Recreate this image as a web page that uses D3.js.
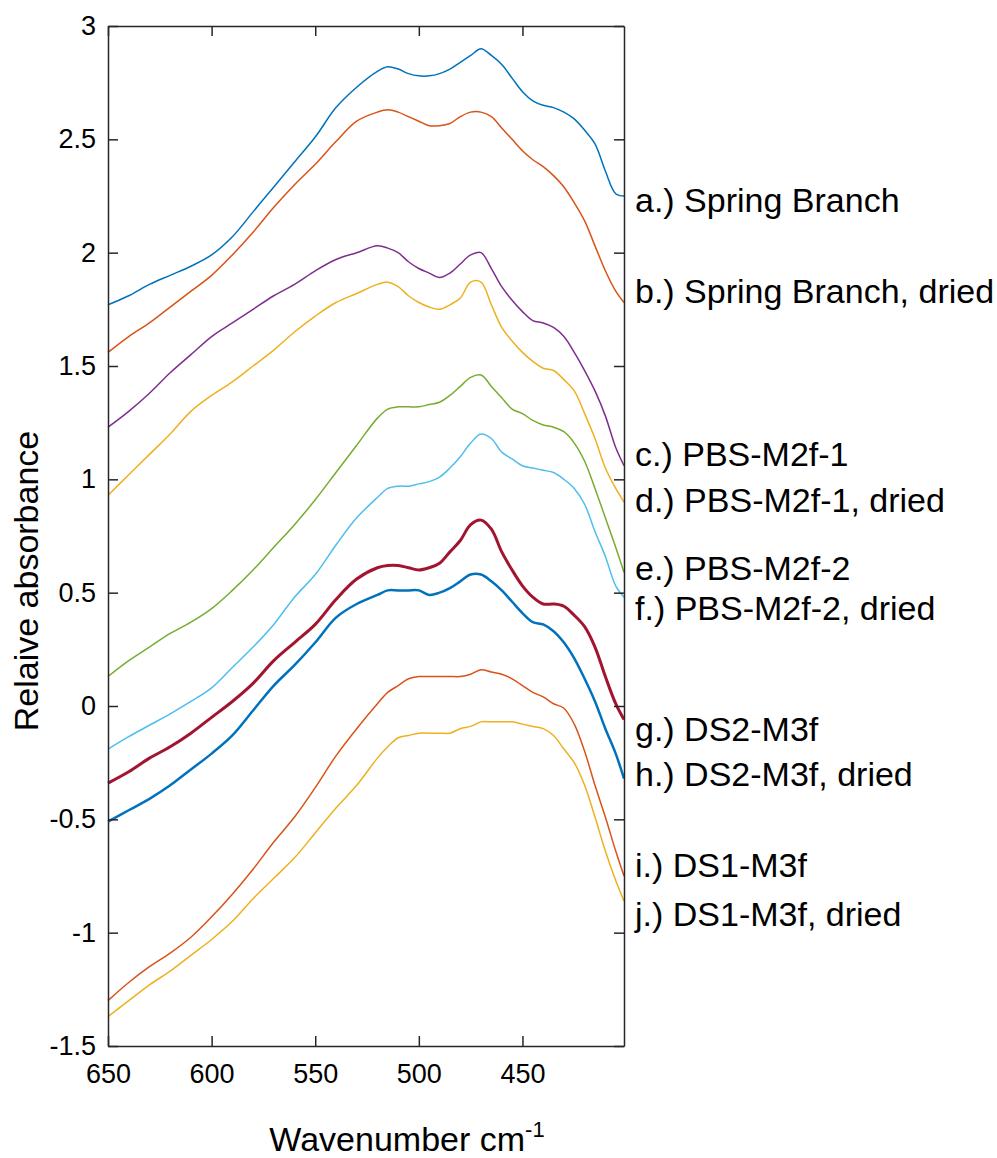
<!DOCTYPE html>
<html>
<head>
<meta charset="utf-8">
<script src="https://cdn.jsdelivr.net/npm/d3@7"></script>
<style>
  body { margin: 0; background: #fff; }
  text { font-family: "Liberation Sans", Arial, sans-serif; fill: #000; }
</style>
</head>
<body>
<div id="chart"></div>
<script>
const margin = { top: 26, right: 373, bottom: 112, left: 108 },
      width = 997 - margin.left - margin.right,
      height = 1158 - margin.top - margin.bottom;

// wavenumbers (cm-1), shared by every spectrum
const wavenumbers = [650, 640, 630, 620, 610, 600, 590, 580, 570, 560, 550, 540, 530, 520, 515, 510,
  505, 500, 495, 490, 485, 480, 475, 470, 465, 460, 455, 450, 445, 440, 435, 430, 425, 420, 415, 410, 405, 401];

const springBranch      = [1.77,1.81,1.86,1.90,1.94,1.99,2.07,2.18,2.29,2.40,2.51,2.64,2.73,2.80,2.82,2.81,2.79,2.78,2.78,2.79,2.81,2.84,2.87,2.90,2.87,2.83,2.77,2.71,2.67,2.65,2.64,2.62,2.59,2.54,2.48,2.36,2.26,2.25];
const springBranchDried = [1.56,1.63,1.69,1.76,1.83,1.90,1.99,2.09,2.20,2.30,2.39,2.49,2.58,2.62,2.63,2.62,2.60,2.58,2.56,2.56,2.57,2.60,2.62,2.62,2.60,2.55,2.50,2.45,2.41,2.38,2.34,2.29,2.22,2.14,2.03,1.92,1.83,1.78];
const pbs1      = [1.23,1.30,1.38,1.47,1.55,1.63,1.69,1.75,1.81,1.86,1.92,1.97,2.00,2.03,2.02,2.00,1.96,1.93,1.91,1.89,1.91,1.95,1.99,2.00,1.93,1.85,1.79,1.74,1.70,1.69,1.67,1.63,1.56,1.48,1.39,1.28,1.14,1.06];
const pbs1Dried = [0.93,1.02,1.11,1.20,1.30,1.37,1.43,1.50,1.57,1.65,1.72,1.78,1.82,1.86,1.87,1.85,1.81,1.78,1.76,1.75,1.77,1.80,1.87,1.87,1.77,1.67,1.61,1.56,1.52,1.49,1.48,1.44,1.39,1.29,1.18,1.05,0.96,0.90];
const pbs2      = [0.13,0.20,0.26,0.32,0.37,0.43,0.51,0.60,0.70,0.80,0.91,1.03,1.15,1.27,1.31,1.32,1.32,1.32,1.33,1.34,1.37,1.41,1.45,1.46,1.41,1.36,1.31,1.29,1.26,1.24,1.23,1.21,1.16,1.08,0.96,0.83,0.70,0.59];
const pbs2Dried = [-0.19,-0.135,-0.085,-0.035,0.02,0.08,0.17,0.26,0.36,0.48,0.58,0.71,0.83,0.92,0.96,0.97,0.97,0.98,0.99,1.01,1.05,1.10,1.16,1.20,1.18,1.12,1.09,1.06,1.05,1.04,1.03,1.00,0.96,0.89,0.77,0.66,0.53,0.48];
const ds2      = [-0.34,-0.29,-0.23,-0.18,-0.12,-0.05,0.02,0.10,0.20,0.28,0.36,0.47,0.56,0.61,0.62,0.62,0.61,0.60,0.61,0.63,0.68,0.73,0.80,0.82,0.78,0.68,0.60,0.53,0.48,0.45,0.45,0.44,0.40,0.35,0.26,0.13,0.01,-0.06];
const ds2Dried = [-0.51,-0.46,-0.41,-0.35,-0.28,-0.21,-0.13,-0.02,0.09,0.18,0.28,0.39,0.45,0.49,0.51,0.51,0.51,0.51,0.49,0.50,0.52,0.55,0.58,0.58,0.55,0.51,0.46,0.41,0.37,0.36,0.33,0.28,0.21,0.12,0.02,-0.10,-0.21,-0.32];
const ds1      = [-1.30,-1.22,-1.15,-1.09,-1.02,-0.93,-0.83,-0.72,-0.60,-0.49,-0.36,-0.22,-0.10,0.01,0.06,0.09,0.12,0.13,0.13,0.13,0.13,0.13,0.14,0.16,0.15,0.14,0.12,0.09,0.06,0.04,0.01,-0.01,-0.08,-0.20,-0.35,-0.49,-0.64,-0.75];
const ds1Dried = [-1.37,-1.30,-1.23,-1.17,-1.10,-1.03,-0.95,-0.85,-0.76,-0.67,-0.56,-0.45,-0.35,-0.23,-0.18,-0.14,-0.13,-0.12,-0.12,-0.12,-0.12,-0.10,-0.09,-0.07,-0.07,-0.07,-0.07,-0.08,-0.09,-0.10,-0.13,-0.19,-0.25,-0.35,-0.49,-0.64,-0.77,-0.86];

const labels = [
  "a.) Spring Branch", "b.) Spring Branch, dried",
  "c.) PBS-M2f-1", "d.) PBS-M2f-1, dried",
  "e.) PBS-M2f-2", "f.) PBS-M2f-2, dried",
  "g.) DS2-M3f", "h.) DS2-M3f, dried",
  "i.) DS1-M3f", "j.) DS1-M3f, dried"
];
// vertical position of each label, in absorbance units
const labelValues = [2.23, 1.83, 1.11, 0.91, 0.61, 0.43, -0.10, -0.30, -0.70, -0.92];
const colors = ["#0072BD", "#D95319", "#7E2F8E", "#EDB120", "#77AC30",
                "#4DBEEE", "#A2142F", "#0072BD", "#D95319", "#EDB120"];
const lineWidths = [1.5, 1.5, 1.5, 1.5, 1.5, 1.5, 3, 2.5, 1.5, 1.5];

const xTicks = [650, 600, 550, 500, 450];
const yTicks = [-1.5, -1, -0.5, 0, 0.5, 1, 1.5, 2, 2.5, 3];

const series = [springBranch, springBranchDried, pbs1, pbs1Dried, pbs2,
                pbs2Dried, ds2, ds2Dried, ds1, ds1Dried];

const svg = d3.select("#chart")
  .append("svg")
  .attr("width", width + margin.left + margin.right)
  .attr("height", height + margin.top + margin.bottom)
  .append("g")
  .attr("transform", `translate(${margin.left},${margin.top})`);

const x = d3.scaleLinear().domain([650, 401]).range([0, width]);
const y = d3.scaleLinear().domain([-1.5, 3]).range([height, 0]);

const axisColor = "#262626";

// spectra
const line = d3.line()
  .x((d, i) => x(wavenumbers[i]))
  .y(d => y(d))
  .curve(d3.curveCatmullRom.alpha(0.5));

svg.selectAll("path.spectrum")
  .data(series)
  .join("path")
  .attr("class", "spectrum")
  .attr("d", line)
  .attr("fill", "none")
  .attr("stroke", (d, i) => colors[i])
  .attr("stroke-width", (d, i) => lineWidths[i])
  .attr("stroke-linejoin", "round");

// axes, MATLAB style box with inward ticks
const axisBottomG = svg.append("g")
  .attr("transform", `translate(0,${height})`)
  .call(d3.axisBottom(x).tickValues(xTicks).tickSizeInner(-10).tickSizeOuter(0).tickPadding(18));
const axisTopG = svg.append("g")
  .call(d3.axisTop(x).tickValues(xTicks).tickSizeInner(-10).tickSizeOuter(0).tickFormat(""));
const axisLeftG = svg.append("g")
  .call(d3.axisLeft(y).tickValues(yTicks).tickSizeInner(-10).tickSizeOuter(0).tickPadding(12)
    .tickFormat(d => String(d)));
const axisRightG = svg.append("g")
  .attr("transform", `translate(${width},0)`)
  .call(d3.axisRight(y).tickValues(yTicks).tickSizeInner(-10).tickSizeOuter(0).tickFormat(""));

[axisBottomG, axisTopG, axisLeftG, axisRightG].forEach(g => {
  g.select(".domain").attr("stroke", axisColor).attr("stroke-width", 1.5);
  g.selectAll(".tick line").attr("stroke", axisColor).attr("stroke-width", 1.5);
  g.selectAll(".tick text")
    .style("font-size", "27px")
    .style("font-family", "'Liberation Sans', Arial, sans-serif")
    .attr("fill", "#000");
});

// series labels
svg.selectAll("text.label")
  .data(labels)
  .join("text")
  .attr("class", "label")
  .attr("x", width + 11)
  .attr("y", (d, i) => y(labelValues[i]))
  .attr("dy", "0.35em")
  .style("font-size", "34px")
  .text(d => d);

// axis titles
const xTitle = svg.append("text")
  .attr("x", width / 2 + 41)
  .attr("y", height + 105)
  .attr("text-anchor", "middle")
  .style("font-size", "34px");
xTitle.append("tspan").text("Wavenumber cm");
xTitle.append("tspan")
  .attr("dy", -14)
  .style("font-size", "22px")
  .text("-1");

svg.append("text")
  .attr("transform", `translate(${-70},${height / 2 + 45}) rotate(-90)`)
  .attr("text-anchor", "middle")
  .style("font-size", "34px")
  .text("Relaive absorbance");
</script>
</body>
</html>
